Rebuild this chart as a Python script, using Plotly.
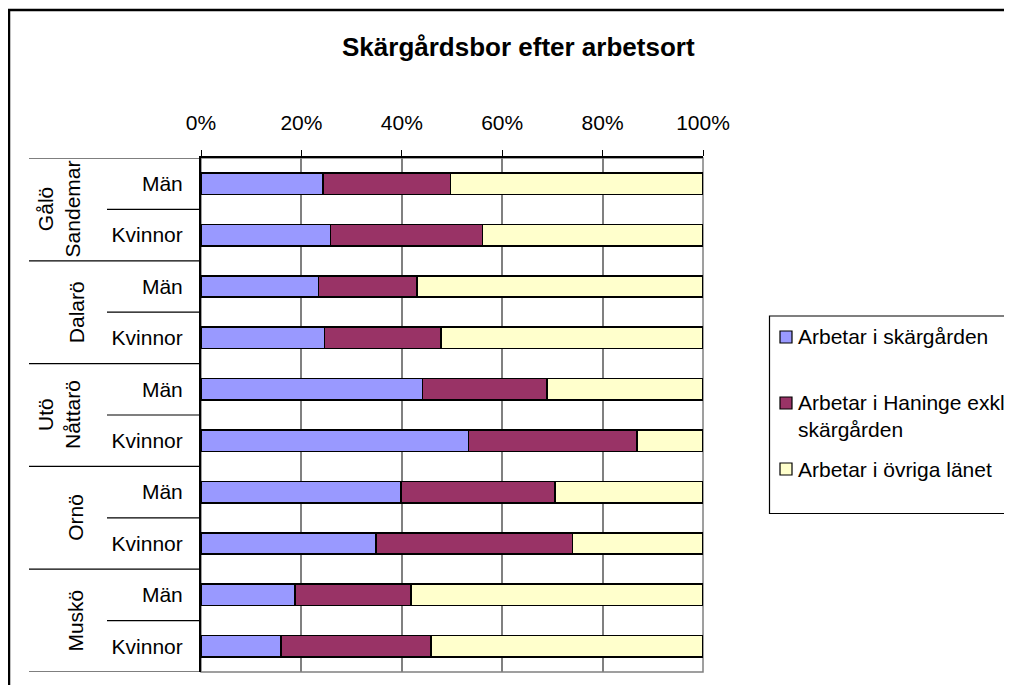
import plotly.graph_objects as go

# ---------------- data ----------------
REGIONS = ["Gålö<br>Sandemar", "Dalarö", "Utö<br>Nåttarö", "Ornö", "Muskö"]
GENDERS = ["Män", "Kvinnor"]
SERIES = ["Arbetar i skärgården", "Arbetar i Haninge exkl<br>skärgården", "Arbetar i övriga länet"]
COLORS = ["#9999FF", "#993366", "#FFFFCC"]

# shares (%) per row: Gålö Män, Gålö Kvinnor, Dalarö Män, ... Muskö Kvinnor
ARB_SKARGARDEN = [24.3, 25.8, 23.4, 24.6, 44.1, 53.3, 39.8, 34.9, 18.7, 15.9]
ARB_HANINGE = [25.4, 30.3, 19.6, 23.2, 24.8, 33.6, 30.7, 39.1, 23.1, 29.9]
ARB_OVRIGA = [50.3, 43.9, 57.0, 52.2, 31.1, 13.1, 29.5, 26.0, 58.2, 54.2]
X_TICKS = [0, 20, 40, 60, 80, 100]
X_TICK_LABELS = ["0%", "20%", "40%", "60%", "80%", "100%"]
TITLE = "Skärgårdsbor efter arbetsort"

# ---------------- layout geometry (reference page pixels) ----------------
OFF = 8                      # page body margin: the figure starts 8px in
W, H = 1012 - OFF, 685 - OFF
L, R, T, B = 201, 703, 158, 672
FONT = "Liberation Sans, Arial, sans-serif"


def px(x):
    return (x - L) / (R - L)


def py(y):
    return (B - y) / (B - T)


rows = []
for reg in REGIONS:
    for g in GENDERS:
        rows.append(g)
ypos = list(range(len(rows)))

fig = go.Figure()
for name, vals, col in zip(SERIES, [ARB_SKARGARDEN, ARB_HANINGE, ARB_OVRIGA], COLORS):
    fig.add_trace(go.Bar(
        x=vals, y=ypos, orientation="h", name=name,
        marker=dict(color=col, line=dict(color="black", width=1.6)),
        showlegend=False,
    ))

shapes = []
# plot area border (gray)
shapes.append(dict(type="rect", xref="paper", yref="paper", x0=0, x1=1, y0=0, y1=1,
                   line=dict(color="#808080", width=1.5), layer="below"))
# outer chart frame
shapes.append(dict(type="rect", xref="paper", yref="paper", x0=px(9), x1=px(1030),
                   y0=py(700), y1=py(10), line=dict(color="black", width=2.5)))
# category divider lines on the left
n = len(rows)
for k in range(0, n + 1, 2):
    shapes.append(dict(type="line", xref="paper", yref="y", x0=px(29), x1=0,
                       y0=k - 0.5, y1=k - 0.5, line=dict(color="black", width=1.2)))
for k in range(1, n, 2):
    shapes.append(dict(type="line", xref="paper", yref="y", x0=px(107), x1=0,
                       y0=k - 0.5, y1=k - 0.5, line=dict(color="black", width=1.2)))

annotations = []
# title
annotations.append(dict(text="<b>" + TITLE + "</b>", xref="paper", yref="paper",
                        x=px(518), y=py(47), xanchor="center", yanchor="middle",
                        showarrow=False, font=dict(family=FONT, size=26, color="black")))
# region labels (rotated)
for i, reg in enumerate(REGIONS):
    two = "<br>" in reg
    annotations.append(dict(text=reg, xref="paper", yref="y",
                            x=px(59 if two else 76), y=2 * i + 0.5,
                            xanchor="center", yanchor="middle", textangle=-90,
                            showarrow=False, font=dict(family=FONT, size=21, color="black")))

# manual legend
shapes.append(dict(type="rect", xref="paper", yref="paper", x0=px(769.5), x1=px(1040),
                   y0=py(513.5), y1=py(316), line=dict(color="black", width=1.2)))
leg_y = [336, 415.5, 469]
mark_y = [337, 403, 469]
for name, col, ty, my in zip(SERIES, COLORS, leg_y, mark_y):
    shapes.append(dict(type="rect", xref="paper", yref="paper",
                       x0=px(780), x1=px(792), y0=py(my + 6), y1=py(my - 6),
                       fillcolor=col, line=dict(color="black", width=1.2)))
    annotations.append(dict(text=name, xref="paper", yref="paper", x=px(796), y=py(ty),
                            xanchor="left", yanchor="middle", align="left", showarrow=False,
                            font=dict(family=FONT, size=21, color="black")))

fig.update_layout(
    width=W, height=H, autosize=False,
    margin=dict(l=L - OFF, r=1012 - R, t=T - OFF, b=685 - B, pad=0),
    paper_bgcolor="white", plot_bgcolor="white",
    barmode="stack", bargap=0.58,
    font=dict(family=FONT, size=21, color="black"),
    shapes=shapes, annotations=annotations,
    xaxis=dict(
        side="top", range=[0, 100], tickmode="array",
        tickvals=X_TICKS, ticktext=X_TICK_LABELS,
        showgrid=True, gridcolor="#808080", gridwidth=1.5,
        showline=True, linecolor="black", linewidth=1.5,
        ticks="outside", ticklen=6, tickcolor="black", tickwidth=1.2,
        ticklabelstandoff=12, zeroline=False,
        tickfont=dict(family=FONT, size=21, color="black"),
    ),
    yaxis=dict(
        range=[n - 0.5, -0.5], tickvals=ypos, ticktext=rows,
        showgrid=False, zeroline=False,
        showline=True, linecolor="black", linewidth=2,
        ticks="", ticklabelstandoff=12,
        tickfont=dict(family=FONT, size=21, color="black"),
    ),
)

fig.write_html("out.html")
